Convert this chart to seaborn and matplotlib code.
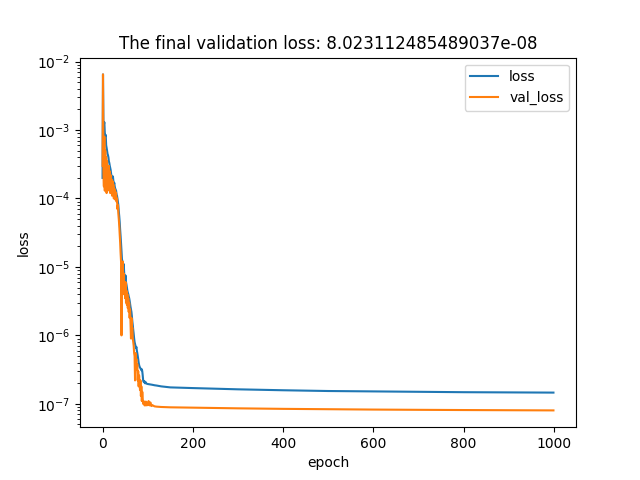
import matplotlib
matplotlib.use("Agg")
import matplotlib.pyplot as plt
import seaborn as sns
import pandas as pd

epochs = list(range(0, 101)) + [102, 104, 106, 108, 110, 115, 120, 130, 140, 150,
                                 200, 300, 400, 500, 600, 700, 800, 900, 999]

loss = [
    2.0e-4, 6.5e-3, 1.3e-3, 1.2e-3, 1.3e-3, 9e-4, 8e-4, 8.5e-4, 6e-4, 5.5e-4,
    5e-4, 4.5e-4, 4.3e-4, 4.0e-4, 3.5e-4, 3.3e-4, 3.0e-4, 2.8e-4, 2.6e-4, 2.3e-4,
    2.1e-4, 2.0e-4, 1.9e-4, 2.1e-4, 1.8e-4, 1.6e-4, 1.7e-4, 1.5e-4, 1.4e-4, 1.35e-4,
    1.3e-4, 1.15e-4, 1.1e-4, 1.0e-4, 9e-5, 8e-5, 6.5e-5, 5.5e-5, 4.5e-5, 3.5e-5,
    2.8e-5, 2.2e-5, 1.7e-5, 1.3e-5, 1.2e-5, 1.1e-5, 9e-6, 1.1e-5, 8e-6, 7e-6,
    6.5e-6, 7.5e-6, 6e-6, 5.5e-6, 5e-6, 4.5e-6, 4.2e-6, 4.0e-6, 3.7e-6, 3.5e-6,
    3.2e-6, 2.9e-6, 2.6e-6, 2.4e-6, 2.2e-6, 1.9e-6, 1.6e-6, 1.4e-6, 1.2e-6, 1.05e-6,
    9e-7, 8e-7, 7.5e-7, 7e-7, 6.5e-7, 6.8e-7, 6e-7, 5.5e-7, 5e-7, 4.5e-7,
    4.0e-7, 3.7e-7, 3.5e-7, 3.4e-7, 3.3e-7, 3.2e-7, 3.1e-7, 3.2e-7, 3.0e-7, 2.6e-7,
    2.2e-7, 2.1e-7, 2.15e-7, 2.05e-7, 2.0e-7, 2.1e-7, 2.0e-7, 1.98e-7, 1.97e-7, 1.96e-7,
    1.95e-7,
    1.94e-7, 1.93e-7, 1.92e-7, 1.91e-7, 1.9e-7, 1.87e-7, 1.85e-7, 1.8e-7, 1.77e-7, 1.74e-7,
    1.7e-7, 1.63e-7, 1.58e-7, 1.54e-7, 1.52e-7, 1.5e-7, 1.48e-7, 1.47e-7, 1.46e-7,
]

val_loss = [
    3e-4, 6.5e-3, 2.5e-4, 1.5e-4, 8e-4, 1.3e-4, 5e-4, 1.5e-4, 4e-4, 1.2e-4,
    3.5e-4, 1.6e-4, 2.8e-4, 1.4e-4, 3e-4, 1.3e-4, 2.5e-4, 1.2e-4, 2.2e-4, 1.4e-4,
    1.9e-4, 1.1e-4, 1.8e-4, 1.2e-4, 1.6e-4, 1.0e-4, 1.4e-4, 1.1e-4, 1.3e-4, 9.5e-5,
    1.2e-4, 9e-5, 1.0e-4, 7e-5, 8e-5, 6e-5, 5e-5, 4e-5, 3e-5, 2.3e-5,
    1.6e-5, 1.2e-5, 1.0e-6, 1.0e-5, 6e-6, 1.2e-5, 4e-6, 8e-6, 4.5e-6, 6e-6,
    3.5e-6, 6e-6, 3e-6, 4.5e-6, 2.8e-6, 4e-6, 2.5e-6, 3.5e-6, 2.2e-6, 3e-6,
    1.8e-6, 2.4e-6, 1.5e-6, 9e-7, 1.8e-6, 1.2e-6, 1.3e-6, 9e-7, 8e-7, 7e-7,
    5.5e-7, 5e-7, 2.2e-7, 5.5e-7, 4e-7, 4.5e-7, 3.2e-7, 3.8e-7, 2.2e-7, 3e-7,
    1.8e-7, 2.6e-7, 2.0e-7, 1.6e-7, 2.2e-7, 1.3e-7, 1.8e-7, 1.1e-7, 1.5e-7, 1.2e-7,
    1.0e-7, 1.1e-7, 1.05e-7, 9.5e-8, 1.0e-7, 9.5e-8, 1.08e-7, 9.8e-8, 9.5e-8, 9.8e-8,
    9.6e-8,
    1.1e-7, 9.5e-8, 1.05e-7, 9.3e-8, 9.6e-8, 9.2e-8, 9.1e-8, 9.0e-8, 8.95e-8, 8.9e-8,
    8.8e-8, 8.6e-8, 8.45e-8, 8.35e-8, 8.25e-8, 8.18e-8, 8.12e-8, 8.07e-8, 8.023112485489037e-08,
]

df = pd.DataFrame({"epoch": epochs, "loss": loss, "val_loss": val_loss})

fig, ax = plt.subplots(figsize=(6.4, 4.8), dpi=100)
sns.lineplot(data=df, x="epoch", y="loss", label="loss", color="#1f77b4", ax=ax)
sns.lineplot(data=df, x="epoch", y="val_loss", label="val_loss", color="#ff7f0e", ax=ax)
ax.set_yscale("log")
ax.set_xlabel("epoch")
ax.set_ylabel("loss")
ax.set_title(f"The final validation loss: {val_loss[-1]}")
ax.legend(loc="upper right")
fig.savefig("out.png", dpi=100)
